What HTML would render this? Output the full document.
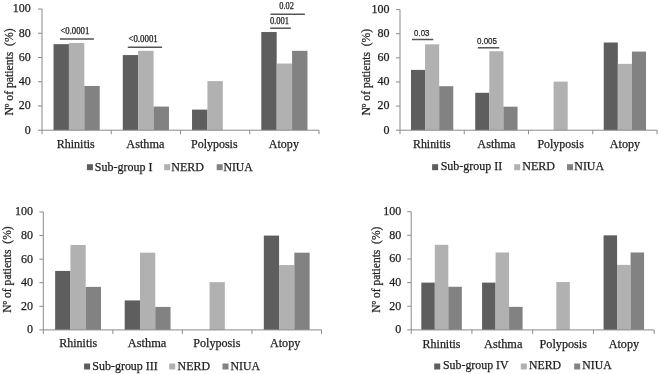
<!DOCTYPE html>
<html><head><meta charset="utf-8"><style>
html,body{margin:0;padding:0;background:#fff;}
svg{display:block;will-change:transform;}
text{font-family:"Liberation Serif", serif;fill:#1e1e1e;stroke:#1e1e1e;stroke-width:0.25px;}
</style></head><body>
<svg width="660" height="374" viewBox="0 0 660 374">
<rect width="660" height="374" fill="#fff"/>
<rect x="53.54" y="44.15" width="15.39" height="86.05" fill="#5e5e5e"/>
<rect x="68.93" y="42.94" width="15.39" height="87.26" fill="#b1b1b1"/>
<rect x="84.32" y="85.96" width="15.39" height="44.24" fill="#828282"/>
<rect x="122.79" y="55.06" width="15.39" height="75.14" fill="#5e5e5e"/>
<rect x="138.18" y="50.81" width="15.39" height="79.39" fill="#b1b1b1"/>
<rect x="153.57" y="106.57" width="15.39" height="23.63" fill="#828282"/>
<rect x="192.04" y="109.6" width="15.39" height="20.6" fill="#5e5e5e"/>
<rect x="207.43" y="81.11" width="15.39" height="49.09" fill="#b1b1b1"/>
<rect x="261.29" y="32.03" width="15.39" height="98.17" fill="#5e5e5e"/>
<rect x="276.68" y="63.54" width="15.39" height="66.66" fill="#b1b1b1"/>
<rect x="292.07" y="50.81" width="15.39" height="79.39" fill="#828282"/>
<path d="M42 9V130.2H319" stroke="#8a8a8a" stroke-width="1" fill="none"/>
<path d="M38 130.2H42 M38 105.96H42 M38 81.72H42 M38 57.48H42 M38 33.24H42 M38 9H42 M42 130.2V134.2 M111.25 130.2V134.2 M180.5 130.2V134.2 M249.75 130.2V134.2 M319 130.2V134.2" stroke="#8a8a8a" stroke-width="1" fill="none"/>
<text x="30.7" y="133.6" text-anchor="end" font-size="12">0</text>
<text x="30.7" y="109.36" text-anchor="end" font-size="12">20</text>
<text x="30.7" y="85.12" text-anchor="end" font-size="12">40</text>
<text x="30.7" y="60.88" text-anchor="end" font-size="12">60</text>
<text x="30.7" y="36.64" text-anchor="end" font-size="12">80</text>
<text x="30.7" y="12.4" text-anchor="end" font-size="12">100</text>
<text transform="translate(12.5,72) rotate(-90)" text-anchor="middle" font-size="12" textLength="87.2" lengthAdjust="spacingAndGlyphs" xml:space="preserve">Nº of patients  (%)</text>
<text x="56.7" y="148.2" font-size="12" textLength="38.1" lengthAdjust="spacingAndGlyphs">Rhinitis</text>
<text x="126.3" y="148.2" font-size="12" textLength="38.1" lengthAdjust="spacingAndGlyphs">Asthma</text>
<text x="191" y="148.2" font-size="12" textLength="46.6" lengthAdjust="spacingAndGlyphs">Polyposis</text>
<text x="268.8" y="148.2" font-size="12" textLength="30.1" lengthAdjust="spacingAndGlyphs">Atopy</text>
<rect x="86.9" y="164.2" width="6" height="6" fill="#5e5e5e"/>
<text x="94.8" y="170.5" font-size="12" textLength="57.6" lengthAdjust="spacingAndGlyphs">Sub-group I</text>
<rect x="164.2" y="164.2" width="6" height="6" fill="#b1b1b1"/>
<text x="171.3" y="170.5" font-size="12" textLength="32.7" lengthAdjust="spacingAndGlyphs">NERD</text>
<rect x="216.7" y="164.2" width="6" height="6" fill="#828282"/>
<text x="223.5" y="170.5" font-size="12" textLength="29.3" lengthAdjust="spacingAndGlyphs">NIUA</text>
<text x="60.4" y="33.7" font-size="9.5" style="font-family:'Liberation Serif', serif" textLength="28.9" lengthAdjust="spacingAndGlyphs">&lt;0.0001</text>
<path d="M59.9 38.9H93.9" stroke="#555555" stroke-width="1.5"/>
<text x="128.4" y="42.3" font-size="9.5" style="font-family:'Liberation Serif', serif" textLength="29.4" lengthAdjust="spacingAndGlyphs">&lt;0.0001</text>
<path d="M127.8 47.2H162.1" stroke="#555555" stroke-width="1.5"/>
<text x="270" y="23.9" font-size="9.5" style="font-family:'Liberation Serif', serif" textLength="19.1" lengthAdjust="spacingAndGlyphs">0.001</text>
<path d="M270.2 28.2H290.8" stroke="#555555" stroke-width="1.5"/>
<text x="279.3" y="8.5" font-size="9.5" style="font-family:'Liberation Serif', serif" textLength="14.7" lengthAdjust="spacingAndGlyphs">0.02</text>
<path d="M270.5 14.3H304.9" stroke="#555555" stroke-width="1.5"/>
<rect x="410.98" y="69.9" width="14.1" height="60.3" fill="#5e5e5e"/>
<rect x="425.08" y="44.33" width="14.1" height="85.87" fill="#b1b1b1"/>
<rect x="439.18" y="86.18" width="14.1" height="44.02" fill="#828282"/>
<rect x="475.23" y="92.81" width="14.1" height="37.39" fill="#5e5e5e"/>
<rect x="489.33" y="51.21" width="14.1" height="78.99" fill="#b1b1b1"/>
<rect x="503.43" y="106.68" width="14.1" height="23.52" fill="#828282"/>
<rect x="553.58" y="81.6" width="14.1" height="48.6" fill="#b1b1b1"/>
<rect x="603.73" y="42.52" width="14.1" height="87.68" fill="#5e5e5e"/>
<rect x="617.83" y="63.87" width="14.1" height="66.33" fill="#b1b1b1"/>
<rect x="631.93" y="51.57" width="14.1" height="78.63" fill="#828282"/>
<path d="M400 9.6V130.2H657" stroke="#8a8a8a" stroke-width="1" fill="none"/>
<path d="M396 130.2H400 M396 106.08H400 M396 81.96H400 M396 57.84H400 M396 33.72H400 M396 9.6H400 M400 130.2V134.2 M464.25 130.2V134.2 M528.5 130.2V134.2 M592.75 130.2V134.2 M657 130.2V134.2" stroke="#8a8a8a" stroke-width="1" fill="none"/>
<text x="389.6" y="133.6" text-anchor="end" font-size="12">0</text>
<text x="389.6" y="109.48" text-anchor="end" font-size="12">20</text>
<text x="389.6" y="85.36" text-anchor="end" font-size="12">40</text>
<text x="389.6" y="61.24" text-anchor="end" font-size="12">60</text>
<text x="389.6" y="37.12" text-anchor="end" font-size="12">80</text>
<text x="389.6" y="13" text-anchor="end" font-size="12">100</text>
<text transform="translate(369.5,72.2) rotate(-90)" text-anchor="middle" font-size="12" textLength="86.7" lengthAdjust="spacingAndGlyphs" xml:space="preserve">Nº of patients  (%)</text>
<text x="413" y="147.8" font-size="12" textLength="37.6" lengthAdjust="spacingAndGlyphs">Rhinitis</text>
<text x="477.3" y="147.8" font-size="12" textLength="38.2" lengthAdjust="spacingAndGlyphs">Asthma</text>
<text x="537.5" y="147.8" font-size="12" textLength="46.3" lengthAdjust="spacingAndGlyphs">Polyposis</text>
<text x="609.8" y="147.8" font-size="12" textLength="30.3" lengthAdjust="spacingAndGlyphs">Atopy</text>
<rect x="432.1" y="164.2" width="6" height="6" fill="#5e5e5e"/>
<text x="440.7" y="170.4" font-size="12" textLength="61.6" lengthAdjust="spacingAndGlyphs">Sub-group II</text>
<rect x="514.2" y="164.2" width="6" height="6" fill="#b1b1b1"/>
<text x="522.3" y="170.4" font-size="12" textLength="32.7" lengthAdjust="spacingAndGlyphs">NERD</text>
<rect x="567" y="164.2" width="6" height="6" fill="#828282"/>
<text x="574.3" y="170.4" font-size="12" textLength="29.7" lengthAdjust="spacingAndGlyphs">NIUA</text>
<text x="414.1" y="35.5" font-size="9.5" style="font-family:'Liberation Sans', sans-serif" textLength="15.3" lengthAdjust="spacingAndGlyphs">0.03</text>
<path d="M412 39.5H433.3" stroke="#555555" stroke-width="1.5"/>
<text x="477" y="43.7" font-size="9.5" style="font-family:'Liberation Sans', sans-serif" textLength="19.9" lengthAdjust="spacingAndGlyphs">0.005</text>
<path d="M477.8 47.8H499.2" stroke="#555555" stroke-width="1.5"/>
<rect x="55.15" y="270.95" width="15.28" height="58.95" fill="#5e5e5e"/>
<rect x="70.43" y="245.01" width="15.28" height="84.89" fill="#b1b1b1"/>
<rect x="85.71" y="286.87" width="15.28" height="43.03" fill="#828282"/>
<rect x="124.7" y="300.42" width="15.28" height="29.47" fill="#5e5e5e"/>
<rect x="139.98" y="252.68" width="15.28" height="77.22" fill="#b1b1b1"/>
<rect x="155.26" y="306.91" width="15.28" height="22.99" fill="#828282"/>
<rect x="209.54" y="282.15" width="15.28" height="47.75" fill="#b1b1b1"/>
<rect x="263.8" y="235.58" width="15.28" height="94.32" fill="#5e5e5e"/>
<rect x="279.08" y="265.06" width="15.28" height="64.84" fill="#b1b1b1"/>
<rect x="294.36" y="252.68" width="15.28" height="77.22" fill="#828282"/>
<path d="M43.3 212V329.9H321.5" stroke="#8a8a8a" stroke-width="1" fill="none"/>
<path d="M39.3 329.9H43.3 M39.3 306.32H43.3 M39.3 282.74H43.3 M39.3 259.16H43.3 M39.3 235.58H43.3 M39.3 212H43.3 M43.3 329.9V333.9 M112.85 329.9V333.9 M182.4 329.9V333.9 M251.95 329.9V333.9 M321.5 329.9V333.9" stroke="#8a8a8a" stroke-width="1" fill="none"/>
<text x="33" y="333.3" text-anchor="end" font-size="12">0</text>
<text x="33" y="309.72" text-anchor="end" font-size="12">20</text>
<text x="33" y="286.14" text-anchor="end" font-size="12">40</text>
<text x="33" y="262.56" text-anchor="end" font-size="12">60</text>
<text x="33" y="238.98" text-anchor="end" font-size="12">80</text>
<text x="33" y="215.4" text-anchor="end" font-size="12">100</text>
<text transform="translate(11,269.55) rotate(-90)" text-anchor="middle" font-size="12" textLength="86.4" lengthAdjust="spacingAndGlyphs" xml:space="preserve">Nº of patients  (%)</text>
<text x="59.3" y="346.5" font-size="12" textLength="37.9" lengthAdjust="spacingAndGlyphs">Rhinitis</text>
<text x="127.8" y="346.5" font-size="12" textLength="38.5" lengthAdjust="spacingAndGlyphs">Asthma</text>
<text x="193.3" y="346.5" font-size="12" textLength="47.1" lengthAdjust="spacingAndGlyphs">Polyposis</text>
<text x="270" y="346.5" font-size="12" textLength="30.3" lengthAdjust="spacingAndGlyphs">Atopy</text>
<rect x="84.1" y="363.5" width="6" height="6" fill="#5e5e5e"/>
<text x="92.3" y="369.7" font-size="12" textLength="65.5" lengthAdjust="spacingAndGlyphs">Sub-group III</text>
<rect x="169.2" y="363.5" width="6" height="6" fill="#b1b1b1"/>
<text x="177.6" y="369.7" font-size="12" textLength="32.4" lengthAdjust="spacingAndGlyphs">NERD</text>
<rect x="222.5" y="363.5" width="6" height="6" fill="#828282"/>
<text x="230.6" y="369.7" font-size="12" textLength="29.4" lengthAdjust="spacingAndGlyphs">NIUA</text>
<rect x="421.32" y="282.62" width="13.5" height="47.28" fill="#5e5e5e"/>
<rect x="434.82" y="244.8" width="13.5" height="85.1" fill="#b1b1b1"/>
<rect x="448.32" y="286.76" width="13.5" height="43.14" fill="#828282"/>
<rect x="482.08" y="282.62" width="13.5" height="47.28" fill="#5e5e5e"/>
<rect x="495.58" y="252.48" width="13.5" height="77.42" fill="#b1b1b1"/>
<rect x="509.08" y="306.85" width="13.5" height="23.05" fill="#828282"/>
<rect x="556.33" y="282.03" width="13.5" height="47.87" fill="#b1b1b1"/>
<rect x="603.58" y="235.34" width="13.5" height="94.56" fill="#5e5e5e"/>
<rect x="617.08" y="264.89" width="13.5" height="65.01" fill="#b1b1b1"/>
<rect x="630.58" y="252.48" width="13.5" height="77.42" fill="#828282"/>
<path d="M411.2 211.7V329.9H654.2" stroke="#8a8a8a" stroke-width="1" fill="none"/>
<path d="M407.2 329.9H411.2 M407.2 306.26H411.2 M407.2 282.62H411.2 M407.2 258.98H411.2 M407.2 235.34H411.2 M407.2 211.7H411.2 M411.2 329.9V333.9 M471.95 329.9V333.9 M532.7 329.9V333.9 M593.45 329.9V333.9 M654.2 329.9V333.9" stroke="#8a8a8a" stroke-width="1" fill="none"/>
<text x="401.2" y="333.3" text-anchor="end" font-size="12">0</text>
<text x="401.2" y="309.66" text-anchor="end" font-size="12">20</text>
<text x="401.2" y="286.02" text-anchor="end" font-size="12">40</text>
<text x="401.2" y="262.38" text-anchor="end" font-size="12">60</text>
<text x="401.2" y="238.74" text-anchor="end" font-size="12">80</text>
<text x="401.2" y="215.1" text-anchor="end" font-size="12">100</text>
<text transform="translate(379.9,269.7) rotate(-90)" text-anchor="middle" font-size="12" textLength="86.1" lengthAdjust="spacingAndGlyphs" xml:space="preserve">Nº of patients  (%)</text>
<text x="422.6" y="347.7" font-size="12" textLength="37.9" lengthAdjust="spacingAndGlyphs">Rhinitis</text>
<text x="484.1" y="347.7" font-size="12" textLength="38.3" lengthAdjust="spacingAndGlyphs">Asthma</text>
<text x="539.6" y="347.7" font-size="12" textLength="47.4" lengthAdjust="spacingAndGlyphs">Polyposis</text>
<text x="608.7" y="347.7" font-size="12" textLength="30.4" lengthAdjust="spacingAndGlyphs">Atopy</text>
<rect x="434.2" y="363.5" width="6" height="6" fill="#5e5e5e"/>
<text x="443" y="369.2" font-size="12" textLength="65.6" lengthAdjust="spacingAndGlyphs">Sub-group IV</text>
<rect x="520.8" y="363.5" width="6" height="6" fill="#b1b1b1"/>
<text x="529" y="369.2" font-size="12" textLength="32.1" lengthAdjust="spacingAndGlyphs">NERD</text>
<rect x="574.2" y="363.5" width="6" height="6" fill="#828282"/>
<text x="582.3" y="369.2" font-size="12" textLength="29.3" lengthAdjust="spacingAndGlyphs">NIUA</text>
</svg>
</body></html>
